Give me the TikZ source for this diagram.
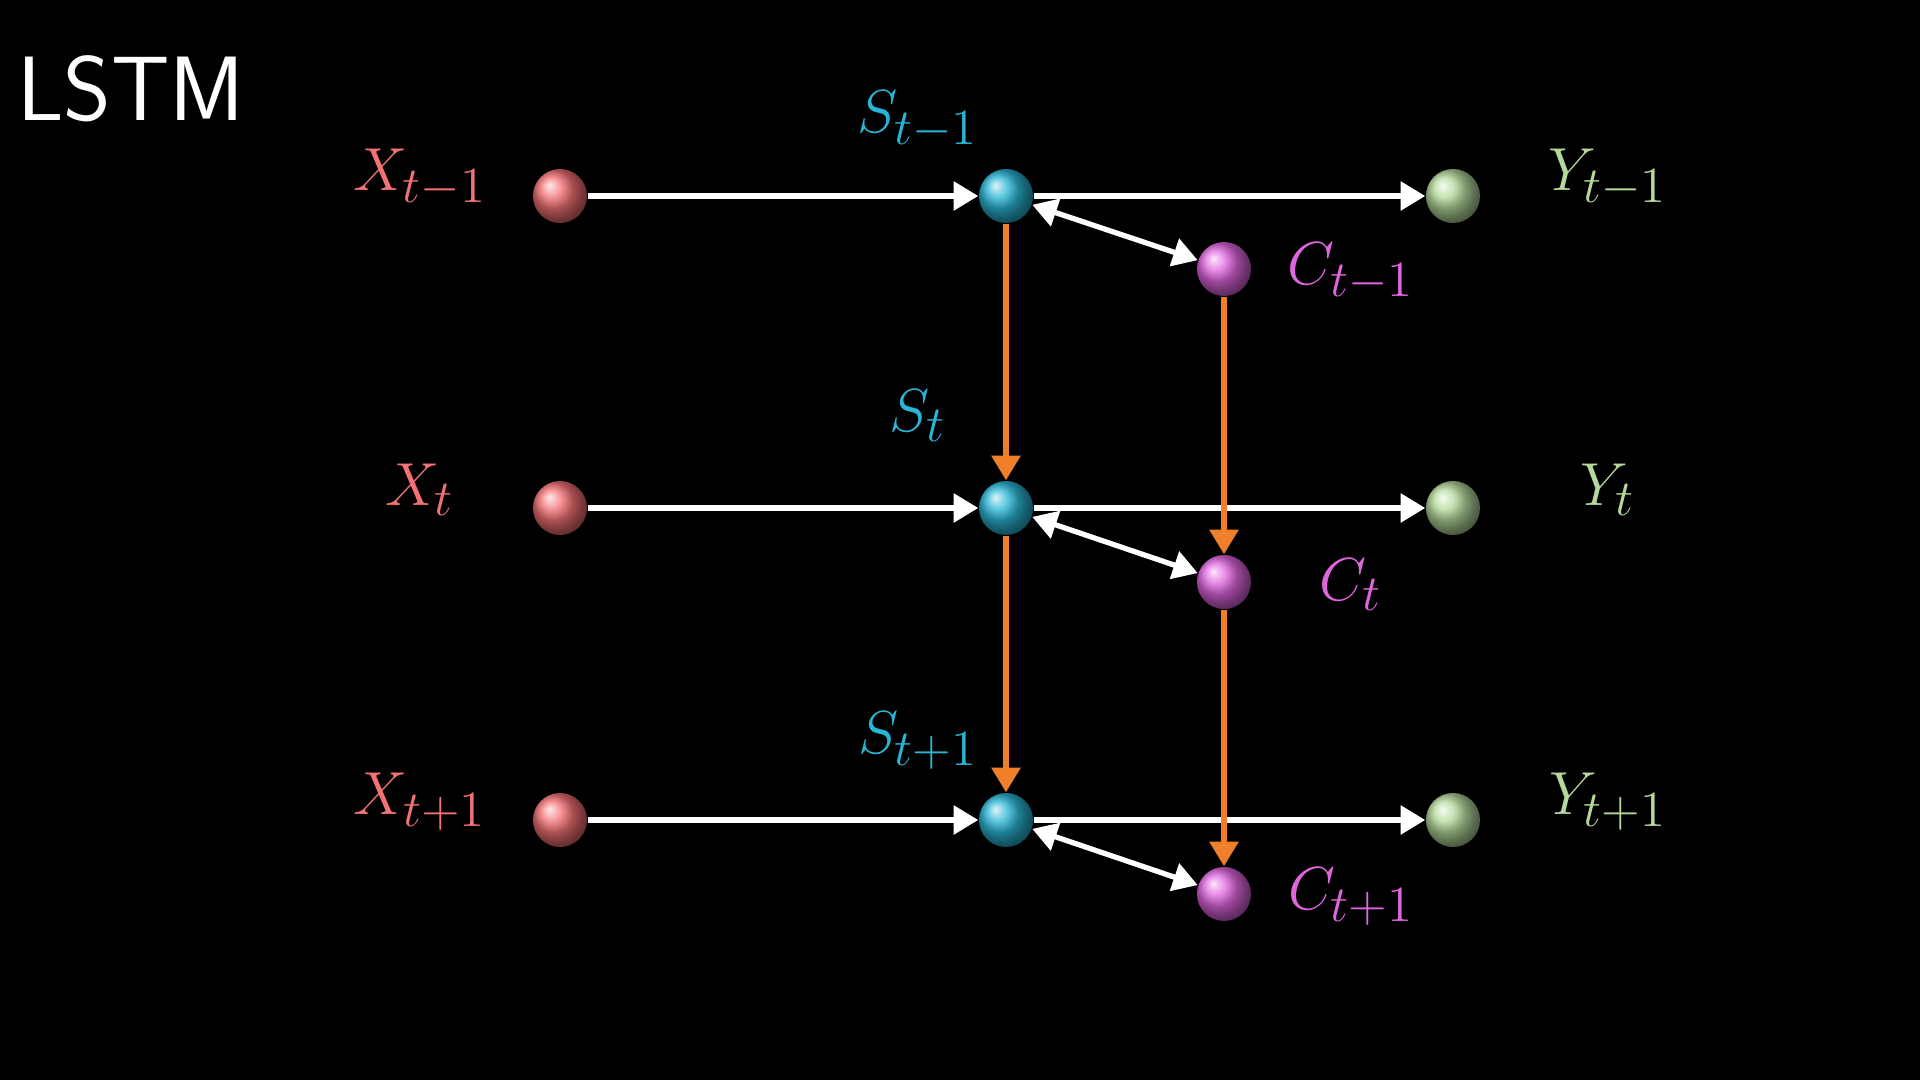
\documentclass[tikz,border=0pt]{standalone}
\usetikzlibrary{arrows.meta}
\definecolor{cx}{HTML}{F47174}
\definecolor{cs}{HTML}{29B6D6}
\definecolor{cy}{HTML}{B5D99C}
\definecolor{cc}{HTML}{E066E0}
\definecolor{co}{HTML}{F07F2A}
\begin{document}
\begin{tikzpicture}[x=0.01cm,y=-0.01cm,
  ball/.style={circle,inner sep=0pt,minimum size=0.54cm,ball color=#1},
  lab/.style={text=#1,font=\fontsize{19}{22}\selectfont},
  wa/.style={white,line width=1.5pt,-{Triangle[length=7pt,width=8pt]}},
  oa/.style={co,line width=1.5pt,-{Triangle[length=7pt,width=8pt]}}]
\fill[black] (0,0) rectangle (1920,1080);
\node[text=white,font=\sffamily\fontsize{26}{28}\selectfont] (t) at (131,89) {LSTM};
\foreach \r/\y/\cy/\s in {a/196/269/{t-1},b/508/582/{t},c/820/894/{t+1}}{
  \node[ball=cx] (X\r) at (560,\y) {};
  \node[ball=cs] (S\r) at (1006,\y) {};
  \node[ball=cy] (Y\r) at (1453,\y) {};
  \node[ball=cc] (C\r) at (1224,\cy) {};
  \node[lab=cx] (LX\r) at (420,\y-18) {$X_{\s}$};
  \node[lab=cy] (LY\r) at (1608,\y-18) {$Y_{\s}$};
  \node[lab=cc] (LC\r) at (1351,\cy+3) {$C_{\s}$};
  \draw[wa] (X\r) -- (S\r);
  \draw[wa] (S\r) -- (Y\r);
  \draw[wa,{Triangle[length=7pt,width=8pt]}-{Triangle[length=7pt,width=8pt]}] (S\r) -- (C\r);
}
\node[lab=cs] (LSa) at (918,120) {$S_{t-1}$};
\node[lab=cs] (LSb) at (918,416) {$S_{t}$};
\node[lab=cs] (LSc) at (918,741) {$S_{t+1}$};
\draw[oa] (Sa) -- (Sb);
\draw[oa] (Sb) -- (Sc);
\draw[oa] (Ca) -- (Cb);
\draw[oa] (Cb) -- (Cc);
\end{tikzpicture}
\end{document}
